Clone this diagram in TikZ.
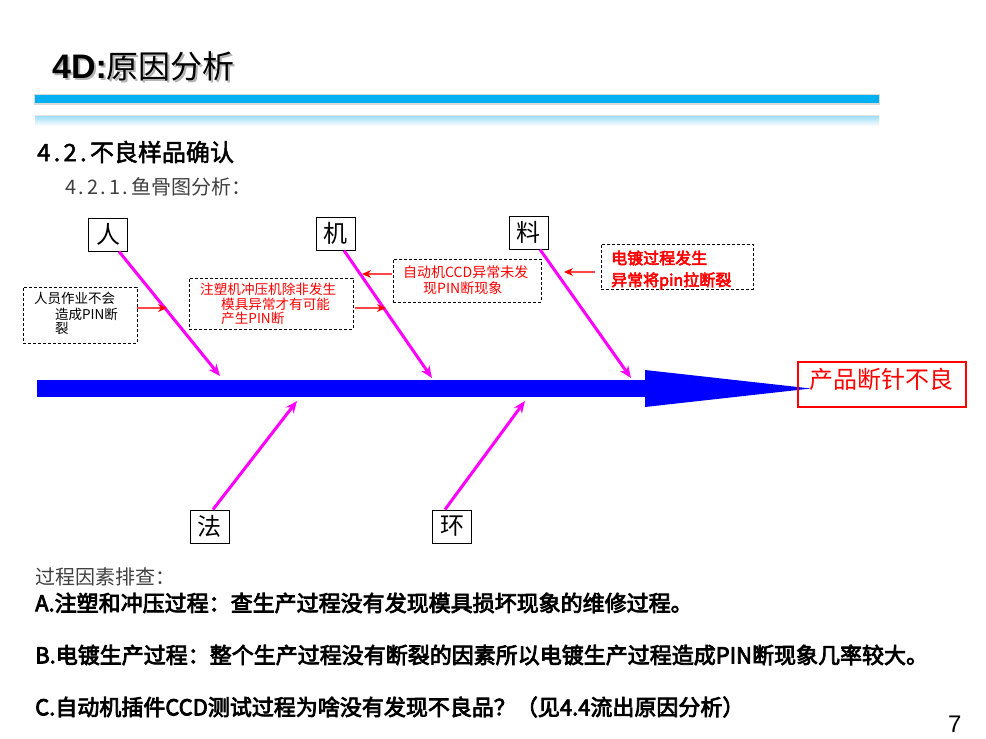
\documentclass[tikz,border=0pt]{standalone}
\usepackage{fontspec}
\setmainfont{Noto Sans CJK SC}
\newfontfamily\arialf{Liberation Sans}
\newfontfamily\cjkfb{Noto Sans CJK SC}[FakeBold=3.5]
\newfontfamily\cjkfbl{Noto Sans CJK SC}[FakeBold=2]
\usetikzlibrary{arrows.meta,calc}
\definecolor{barblue}{RGB}{0,176,240}
\definecolor{lightbar}{RGB}{160,222,247}
\definecolor{mag}{RGB}{255,0,255}
\definecolor{spineblue}{RGB}{0,0,255}
\definecolor{grayt}{RGB}{64,64,64}
\definecolor{redline}{RGB}{255,70,70}
\newcommand{\fs}[1]{\fontsize{#1}{#1}\selectfont}
\newcommand{\hw}[1]{\makebox[0.55em]{#1}}
\begin{document}
\begin{tikzpicture}[x=1pt,y=-1pt,
 lbl/.style={draw=black, line width=1pt, minimum width=39, minimum height=33, inner sep=0, font=\fs{24}},
 dbox/.style={draw=black, line width=0.8pt, dash pattern=on 3pt off 2pt, inner sep=0},
 bone/.style={draw=mag, line width=3pt, -{Stealth[length=12pt,width=10pt]}},
 rarr/.style={draw=redline, line width=1.3pt, -{Stealth[length=9pt,width=8pt,color=red]}},
 txt/.style={anchor=west, inner sep=0},
]
\useasboundingbox (0,0) rectangle (986,739);
\fill[white] (0,0) rectangle (986,739);

% title
\node[txt, anchor=base west, text=black!30] (titleS) at (54,80) {\arialf\bfseries\fs{34}4D:\normalfont\fs{32}原因分析};
\node[txt, anchor=base west] (title) at (52,78) {\arialf\bfseries\fs{34}4D:\normalfont\fs{32}原因分析};

% bars
\fill[black!15] (34,94) rectangle (880,105);
\fill[barblue] (35,95) rectangle (879,103);
\fill[black!10] (35,115) rectangle (879,116);
\shade[top color=lightbar, bottom color=white] (35,116) rectangle (879,126);

% headings
\node[txt] (h1) at (37,152) {\cjkfbl\fs{24}\hw{4}\hw{.}\hw{2}\hw{.}不良样品确认};
\node[txt, text=grayt] (h2) at (65,187) {\fs{20}\hw{4}\hw{.}\hw{2}\hw{.}\hw{1}\hw{.}鱼骨图分析：};

% spine
\fill[spineblue] (37,380) rectangle (646,397);
\fill[spineblue] (645,370) -- (811,388.5) -- (645,407) -- cycle;
\coordinate (eR) at (220,376);
\coordinate (eJ) at (432,378);
\coordinate (eL) at (631,378);
\coordinate (eF) at (297,401);
\coordinate (eH) at (525,401);

% effect box
\node[draw=red, line width=2pt, minimum width=168, minimum height=45, inner sep=0] (out) at (882,384) {};
\node[text=red, inner sep=0] (outT) at (881,379) {\fs{24}产品断针不良};

% category boxes
\node[lbl] (ren) at (108,234.5) {人};
\node[lbl] (ji) at (335.5,233.5) {机};
\node[lbl] (liao) at (528.5,232.5) {料};
\node[lbl] (fa) at (209.5,526.5) {法};
\node[lbl] (huan) at (452,526.5) {环};

% bones
\draw[bone] ([xshift=11pt]ren.south) -- (eR);
\draw[bone] ([xshift=8.5pt]ji.south) -- (eJ);
\draw[bone] ([xshift=11.5pt]liao.south) -- (eL);
\draw[bone] ([xshift=3.5pt]fa.north) -- (eF);
\draw[bone] ([xshift=-7pt]huan.north) -- (eH);

% dashed boxes
\node[dbox, minimum width=114, minimum height=56] (bA) at (80,315) {};
\node[dbox, minimum width=164, minimum height=51] (bB) at (271,303.5) {};
\node[dbox, minimum width=148, minimum height=43] (bC) at (467,280.5) {};
\node[dbox, minimum width=152, minimum height=45] (bD) at (677,266.5) {};

\node[txt] (a1) at (34,298) {\fs{13.5}人员作业不会};
\node[txt] (a2) at (55,314) {\fs{13.5}造成PIN断};
\node[txt] (a3) at (55,328) {\fs{13.5}裂};

\node[txt, text=red] (b1) at (200,289) {\fs{13.6}注塑机冲压机除非发生};
\node[txt, text=red] (b2) at (221,304) {\fs{13.6}模具异常才有可能};
\node[txt, text=red] (b3) at (221,318) {\fs{13.6}产生PIN断};

\node[txt, text=red] (c1) at (403,272) {\fs{14}自动机CCD异常未发};
\node[txt, text=red] (c2) at (423,288) {\fs{14}现PIN断现象};

\node[txt, text=red] (d1) at (611,258) {\cjkfb\fs{16}电镀过程发生};
\node[txt, text=red] (d2) at (611,281) {\cjkfb\fs{16}异常将pin拉断裂};

% red arrows
\coordinate (tA) at (167,308);
\coordinate (tB) at (386,308);
\coordinate (tC) at (362,274);
\coordinate (tD) at (564,272);
\draw[rarr] ([yshift=7pt]bA.east) -- (tA);
\draw[rarr] ([xshift=2pt,yshift=-4.5pt]bB.east) -- (tB);
\draw[rarr] ([xshift=-1pt,yshift=6.5pt]bC.west) -- (tC);
\draw[rarr] ([xshift=-6pt,yshift=-5.5pt]bD.west) -- (tD);

% bottom text
\node[txt, text=grayt] (p0) at (35,577) {\fs{20}过程因素排查：};
\node[txt] (pA) at (35,603) {\cjkfb\fs{22}A.注塑和冲压过程：查生产过程没有发现模具损坏现象的维修过程。};
\node[txt] (pB) at (35,655) {\cjkfb\fs{22}B.电镀生产过程：整个生产过程没有断裂的因素所以电镀生产过程造成PIN断现象几率较大。};
\node[txt] (pC) at (35,707) {\cjkfb\fs{22}C.自动机插件CCD测试过程为啥没有发现不良品？（见4.4流出原因分析）};
\node[txt] (pg) at (948,724) {\arialf\fs{24}7};
\end{tikzpicture}
\end{document}
